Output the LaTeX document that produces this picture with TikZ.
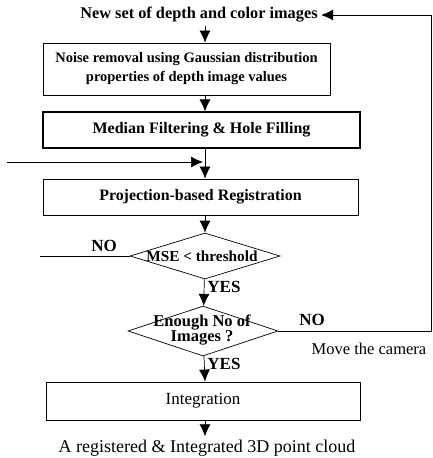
\documentclass[tikz,border=0pt]{standalone}
\usepackage{fontspec}
\setmainfont{Liberation Serif}
\usetikzlibrary{shapes.geometric,arrows.meta}

\begin{document}
\begin{tikzpicture}[x=1pt, y=-1pt,
    every node/.style={font=\fontsize{16}{18}\selectfont\bfseries},
    stepbox/.style={draw, line width=0.8pt, inner sep=0pt},
    decision/.style={draw, diamond, line width=0.7pt, inner sep=0pt},
    flow/.style={line width=0.7pt, -{Latex[length=12pt,width=11pt]}},
    plain/.style={line width=0.7pt},
    lbl/.style={inner sep=1pt, font=\fontsize{17}{19}\selectfont\bfseries}]

  \useasboundingbox (0,0) rectangle (433,458);

  \node[font=\fontsize{16.3}{18}\selectfont\bfseries] (src) at (199,15) {New set of depth and color images};
  \node[stepbox, minimum width=287pt, minimum height=52pt, align=center,
        font=\fontsize{14.5}{19}\selectfont\bfseries] (noise) at (186.5,69)
    {Noise removal using Gaussian distribution\\properties of depth image values};
  \node[stepbox, line width=1.1pt, minimum width=317pt, minimum height=36pt] (median) at (201.5,130)
    {Median Filtering \& Hole Filling};
  \node[stepbox, minimum width=315pt, minimum height=36pt, font=\fontsize{15.9}{18}\selectfont\bfseries] (reg) at (200.5,197)
    {Projection-based Registration};

  \node[decision, minimum width=150pt, minimum height=46pt] (mse) at (205,256) {};
  \node[font=\fontsize{15.3}{18}\selectfont\bfseries] (msetxt) at (202,256) {MSE < threshold};
  \node[decision, minimum width=150pt, minimum height=50pt] (enough) at (203,331) {};
  \node[align=center, font=\fontsize{16.5}{15.5}\selectfont\bfseries] (enoughtxt) at (202,330) {Enough No of\\Images ?};

  \node[stepbox, minimum width=314pt, minimum height=38pt, font=\fontsize{17}{19}\selectfont] (integ) at (203,401)
    {Integration};
  \node[font=\fontsize{18}{20}\selectfont] (cloud) at (207,448) {A registered \& Integrated 3D point cloud};

  % labels
  \node[lbl] (no1) at (104,246) {NO};
  \node[lbl] (yes1) at (224,287) {YES};
  \node[lbl] (no2) at (312,320) {NO};
  \node[lbl] (yes2) at (224,364) {YES};
  \node[lbl, font=\fontsize{16.5}{18}\selectfont] (move) at (369,349) {Move the camera};

  % main flow, straight down x=205
  \coordinate (spine) at (205,0);
  \draw[flow] (spine |- src.south) -- (spine |- noise.north);
  \draw[flow] (spine |- noise.south) -- (spine |- median.north);
  \draw[flow] (spine |- median.south) -- (spine |- reg.north);
  \draw[flow] (reg.south -| spine) -- (mse.north);
  \draw[flow] (mse) -- (enough);
  \draw[flow] (enough) -- (spine |- integ.north);
  \draw[flow] (spine |- integ.south) -- (spine |- cloud.north);

  % feedback lines
  \coordinate (leftend) at (40,256);
  \coordinate (leftin) at (7,162);
  \coordinate (join) at (203,162);
  \draw[plain] (mse.west) -- (leftend);
  \draw[flow] (leftin) -- (join);

  \coordinate (rightlow) at (431,331);
  \coordinate (righttop) at (431,15);
  \draw[flow] (enough.east) -- (rightlow) -- (righttop) -- (src.east);
\end{tikzpicture}
\end{document}
